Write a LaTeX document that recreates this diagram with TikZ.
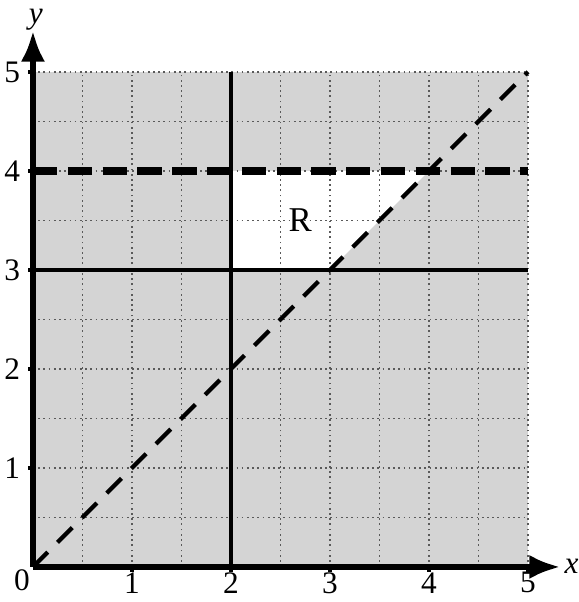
\documentclass[tikz,border=0pt]{standalone}
\usepackage{fontspec}
\setmainfont{Liberation Serif}
\usetikzlibrary{arrows.meta}
\definecolor{shadegrey}{RGB}{212,212,212}
\definecolor{gridc}{RGB}{90,90,90}
\begin{document}
\begin{tikzpicture}[x=1cm,y=1cm,
  lbl/.style={font=\fontsize{9}{11}\selectfont},
  gridline/.style={gridc, densely dotted, line width=0.5pt},
  bound/.style={black, line width=1.1pt},
  dashline/.style={black, dashed, dash pattern=on 6pt off 4pt, line width=1.2pt},
  thickdash/.style={black, dash pattern=on 7pt off 3pt, line width=2.2pt},
  axis/.style={black, line width=1.8pt, -{Latex[length=9pt,width=7pt]}}]
\useasboundingbox (-0.333,-0.354) rectangle (5.515,5.727);
\fill[shadegrey] (0,0) rectangle (5,5);
\fill[white] (2,3) -- (3,3) -- (4,4) -- (2,4) -- cycle;
\foreach \v in {0.5,1,...,5} {
  \draw[gridline] (\v,0) -- (\v,5);
  \draw[gridline] (0,\v) -- (5,\v);
}
\draw[bound] (2,0) -- (2,5);
\draw[bound] (0,3) -- (5,3);
\draw[thickdash] (0,4) -- (5,4);
\draw[dashline] (0,0) -- (5,5);
\coordinate (O) at (0,0);
\coordinate (xe) at (5.33,0);
\coordinate (ye) at (0,5.42);
\draw[axis] (O) -- (xe);
\draw[axis] (O) -- (ye);
\foreach \i in {1,...,5} {
  \draw[black, line width=1pt] (\i,0) -- (\i,-0.05);
  \draw[black, line width=1pt] (0,\i) -- (-0.05,\i);
  \node[lbl] (xl\i) at (\i,-0.16) {\i};
  \node[lbl] (yl\i) at (-0.21,\i) {\i};
}
\node[lbl] (zero) at (-0.11,-0.13) {0};
\node[lbl, inner sep=0pt, font=\fontsize{9}{11}\selectfont\itshape] (xlab) at (5.44,0.01) {x};
\node[lbl, inner sep=0pt, font=\fontsize{9}{11}\selectfont\itshape] (ylab) at (0.03,5.53) {y};
\node[lbl, font=\fontsize{10}{12}\selectfont] (R) at (2.7,3.5) {R};
\end{tikzpicture}
\end{document}
